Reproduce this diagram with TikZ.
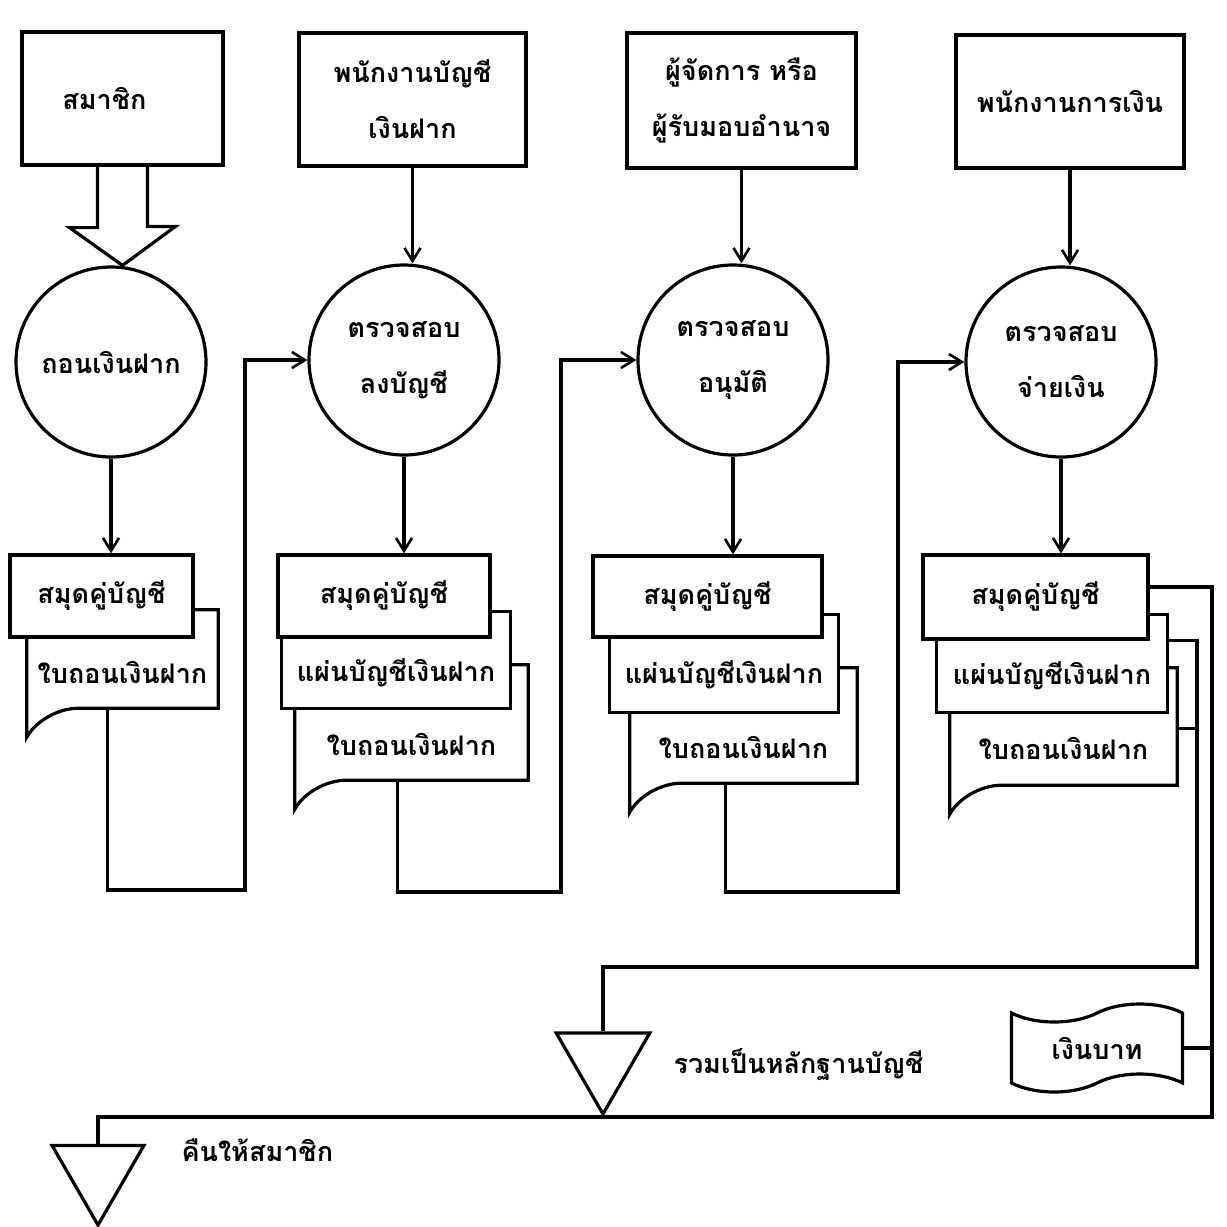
\documentclass[tikz,border=0pt]{standalone}
\usepackage{fontspec}
\newfontfamily\thai[Script=Thai]{Loma}
\usetikzlibrary{shapes.geometric,shapes.symbols,arrows.meta,calc}
\pgfdeclarelayer{bg}
\pgfsetlayers{bg,main}
\newcommand\docbg[2]{%
  \filldraw[ln, fill=white] ([yshift=#2]#1.north west) -- ([yshift=#2]#1.north east) -- (#1.south east)
    -- ([xshift=52pt]#1.south west) .. controls ([xshift=30pt]#1.south west) and ([xshift=8pt,yshift=-14pt]#1.south west) .. ([yshift=-29pt]#1.south west) -- cycle;}
\newcommand\rectbg[2]{%
  \filldraw[ln, fill=white] ([yshift=#2]#1.north west) rectangle (#1.south east);}
\begin{document}
\begin{tikzpicture}[x=1pt,y=-1pt,
  ln/.style={line width=3.2pt, line join=miter},
  txt/.style={font=\thai\bfseries\fontsize{27}{56}\selectfont},
  box/.style={ln, draw, fill=white, rectangle, inner sep=0pt, txt, align=center},
  proc/.style={ln, draw, circle, minimum size=190pt, inner sep=0pt, txt, align=center},
  doctext/.style={rectangle, inner sep=0pt, txt},
  arr/.style={ln, -{Straight Barb[length=13pt,width=16pt,line width=2.6pt]}},
  tri/.style={ln, draw, regular polygon, regular polygon sides=3, shape border rotate=180, inner sep=0pt},
  money/.style={ln, draw, tape, tape bend top=in and out, tape bend bottom=in and out, tape bend height=18pt, inner sep=0pt, txt}]
\begin{pgfonlayer}{bg}
\fill[white] (0,0) rectangle (1227,1227);
\end{pgfonlayer}
\useasboundingbox (0,0) rectangle (1227,1227);

% top row
\node[box, minimum width=201pt, minimum height=133pt] (b1) at (122.5,98.5) {\hspace*{-36pt}สมาชิก};
\node[box, minimum width=227pt, minimum height=133pt] (b2) at (412.5,99.5) {พนักงานบัญชี\\เงินฝาก};
\node[box, minimum width=229pt, minimum height=135pt] (b3) at (741.5,100.5) {ผู้จัดการ หรือ\\ผู้รับมอบอำนาจ};
\node[box, minimum width=228pt, minimum height=133pt] (b4) at (1070,101.5) {พนักงานการเงิน};

% processes
\node[proc] (p1) at (111,362) {ถอนเงินฝาก};
\node[proc] (p2) at (404,360) {ตรวจสอบ\\ลงบัญชี};
\node[proc] (p3) at (733,360) {ตรวจสอบ\\อนุมัติ};
\node[proc] (p4) at (1061,362) {ตรวจสอบ\\จ่ายเงิน};

% hollow arrow
\draw[ln] ([xshift=-25pt]b1.south) -- ++(0,61) -- ++(-28,0) -- (b1.south |- p1.north)
  -- ++(53,-39) -- ++(-28,0) -- ([xshift=25pt]b1.south);
\draw[arr] (b2.south) -- (b2.south |- p2.north);
\draw[arr] (b3.south) -- (b3.south |- p3.north);
\draw[arr] (b4.south) -- (b4.south |- p4.north);

% column 1 documents
\node[doctext, minimum width=191pt, minimum height=71pt] (c1b) at (122.5,672.5) {ใบถอนเงินฝาก};
\node[box, minimum width=183pt, minimum height=82pt] (c1a) at (101.5,596) {สมุดคู่บัญชี};
% column 2
\node[doctext, minimum width=233pt, minimum height=72pt] (c2c) at (411.5,744) {ใบถอนเงินฝาก};
\node[doctext, minimum width=228pt, minimum height=71pt] (c2b) at (396,672.5) {แผ่นบัญชีเงินฝาก};
\node[box, minimum width=212pt, minimum height=82pt] (c2a) at (384,596) {สมุดคู่บัญชี};
% column 3
\node[doctext, minimum width=227pt, minimum height=71pt] (c3c) at (743.5,747.5) {ใบถอนเงินฝาก};
\node[doctext, minimum width=228pt, minimum height=75pt] (c3b) at (724,674.5) {แผ่นบัญชีเงินฝาก};
\node[box, minimum width=229pt, minimum height=81pt] (c3a) at (707.5,596.5) {สมุดคู่บัญชี};
% column 4
\node[doctext, minimum width=227pt, minimum height=73pt] (c4c) at (1063.5,748.5) {ใบถอนเงินฝาก};
\node[doctext, minimum width=230pt, minimum height=73pt] (c4b) at (1052,675.5) {แผ่นบัญชีเงินฝาก};
\node[box, minimum width=225pt, minimum height=84pt] (c4a) at (1035.5,597) {สมุดคู่บัญชี};

\begin{pgfonlayer}{bg}
  \docbg{c1b}{27pt}
  \docbg{c2c}{43pt}
  \rectbg{c2b}{25pt}
  \docbg{c3c}{44pt}
  \rectbg{c3b}{22pt}
  \docbg{c4c}{44pt}
  \rectbg{c4b}{24pt}
\end{pgfonlayer}

% process to documents
\draw[arr] (p1.south) -- (p1.south |- c1a.north);
\draw[arr] (p2.south) -- (p2.south |- c2a.north);
\draw[arr] (p3.south) -- (p3.south |- c3a.north);
\draw[arr] (p4.south) -- (p4.south |- c4a.north);

% passing on
\coordinate (k1) at (245,890);
\coordinate (k2) at (561,892);
\coordinate (k3) at (898,892);
\draw[arr] ([xshift=-15pt]c1b.south) |- (k1) |- (p2.west);
\draw[arr] ([xshift=-14pt]c2c.south) |- (k2) |- (p3.west);
\draw[arr] ([xshift=-18pt]c3c.south) |- (k3) |- (p4.west);

% bottom
\node[tri, minimum size=108pt] (t1) at (603,1060) {};
\node[tri, minimum size=106pt] (t2) at (98,1172) {};
\node[txt, anchor=west] (l1) at (670,1065) {รวมเป็นหลักฐานบัญชี};
\node[txt, anchor=west] (l2) at (178,1150) {คืนให้สมาชิก};
\node[money, minimum width=171pt, minimum height=88pt] (m) at (1097,1048) {เงินบาท};

\coordinate (o2) at (1212,1117);
\coordinate (i2) at (1197,967);
\coordinate (q4a) at ([yshift=10pt]c4a.east);
\coordinate (q4b) at ([yshift=-2pt]c4b.north east);
\coordinate (q4c) at ([yshift=20pt]c4c.east);
\draw[ln] (q4a) -| (o2) -- (t2.north |- o2) -- (t2.north);
\draw[ln] (q4b) -| (i2) -- (t1.north |- i2) -- (t1.north);
\draw[ln] (q4c) -- (q4c -| i2);
\draw[ln] (m.east) -- (m.east -| o2);
\end{tikzpicture}
\end{document}
